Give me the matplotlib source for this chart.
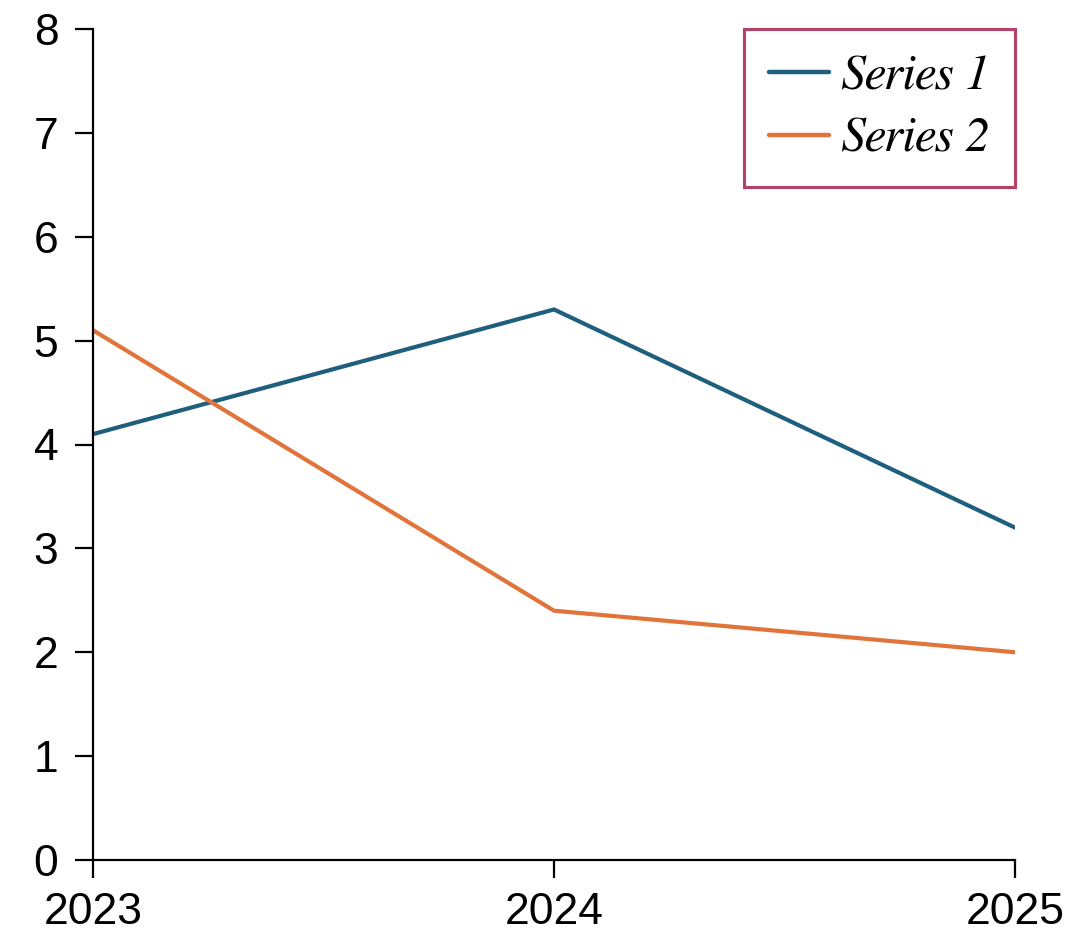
import matplotlib.pyplot as plt
from matplotlib import font_manager as fm

years = ['2023', '2024', '2025']
series_1 = [4.1, 5.3, 3.2]
series_2 = [5.1, 2.4, 2.0]

plt.rcParams['font.family'] = ['Liberation Sans', 'DejaVu Sans']

# Times-like italic for the legend
serif_it = None
for f in fm.fontManager.ttflist:
    if f.fname.endswith('FreeSerifItalic.ttf'):
        serif_it = f.fname
if serif_it:
    leg_font = fm.FontProperties(fname=serif_it, size=36)
else:
    leg_font = fm.FontProperties(family='Liberation Serif', style='italic', size=36)

fig = plt.figure(figsize=(10.82, 9.48), dpi=100)
ax = fig.add_axes([93 / 1082, 1 - 860 / 948, (1015 - 93) / 1082, (860 - 29) / 948])

x = range(len(years))
ax.plot(x, series_1, color='#1F5F7E', lw=3.0, label='Series 1', solid_capstyle='round')
ax.plot(x, series_2, color='#E0743A', lw=3.0, label='Series 2', solid_capstyle='round')

ax.set_xlim(0, 2)
ax.set_ylim(0, 8)
ax.set_xticks(list(x))
ax.set_xticklabels(years)
ax.set_yticks(range(0, 9))
ax.tick_params(axis='both', labelsize=32, direction='out', length=13, width=1.6, pad=12)
ax.tick_params(axis='x', pad=10)
for s in ['top', 'right']:
    ax.spines[s].set_visible(False)
for s in ['left', 'bottom']:
    ax.spines[s].set_linewidth(1.6)

leg = ax.legend(loc='upper right', bbox_to_anchor=(1.0, 1.0), frameon=True, fancybox=False,
                prop=leg_font, handlelength=1.2, handletextpad=0.26, borderpad=0.5,
                labelspacing=0.36, borderaxespad=0)
leg.get_frame().set_edgecolor('#A3123F')
leg.get_frame().set_linewidth(2.2)
for line in leg.get_lines():
    line.set_linewidth(3.2)
    line.set_solid_capstyle('round')

fig.savefig('out.png', dpi=100)
